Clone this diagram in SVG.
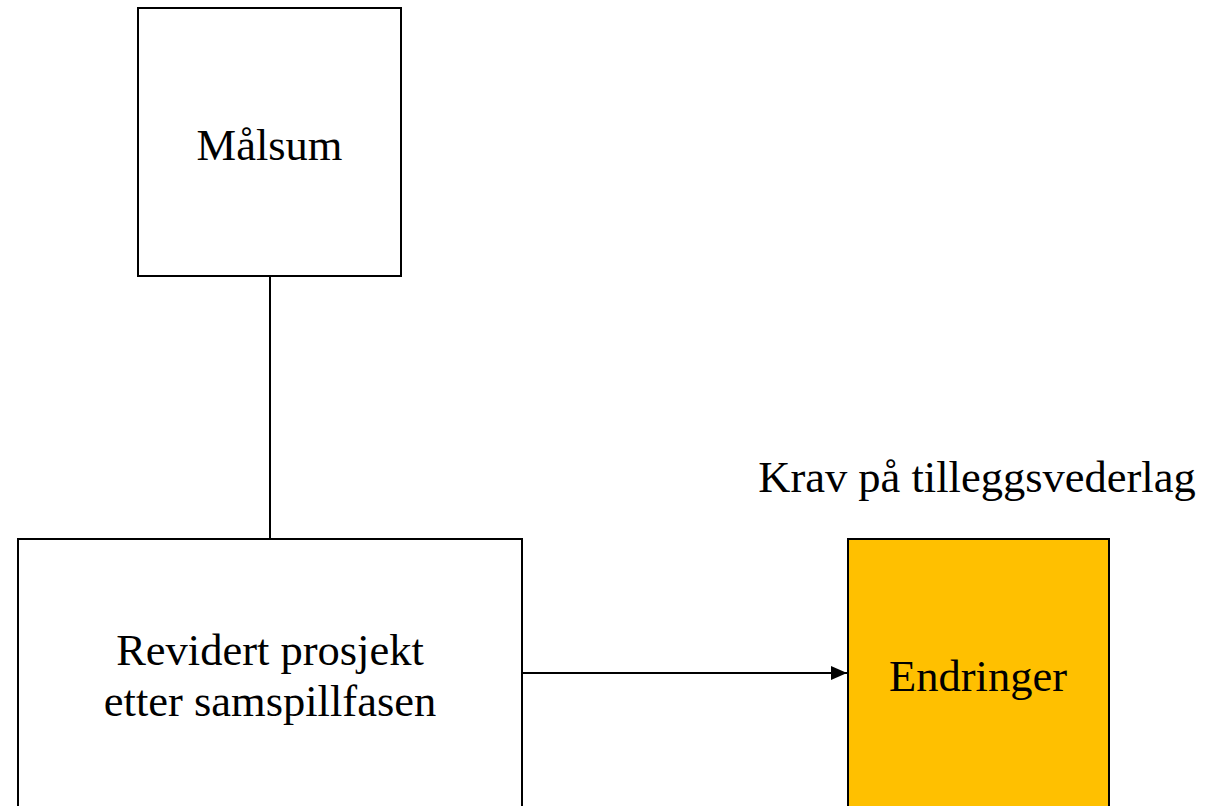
<svg xmlns="http://www.w3.org/2000/svg" width="1205" height="806" viewBox="0 0 1205 806">
<style>
.box{fill:#fff;stroke:#000;stroke-width:2}
.t{font-family:"Liberation Serif","Times New Roman",serif;font-size:44.5px;fill:#000;text-anchor:middle}
.c{stroke:#000;stroke-width:2;fill:none}
</style>
<defs>
<marker id="ah" markerWidth="16" markerHeight="14" refX="16" refY="7" orient="auto" markerUnits="userSpaceOnUse">
<path d="M0,0 L16,7 L0,14 Z" fill="#000"/>
</marker>
</defs>
<rect width="1205" height="806" fill="#fff"/>
<g id="connectors">
<line class="c" x1="270" y1="276" x2="270" y2="539"/>
<line class="c" x1="522" y1="673" x2="847" y2="673" marker-end="url(#ah)"/>
</g>
<g id="malsum">
<rect class="box" x="138" y="8" width="263" height="268"/>
<text class="t" x="269.5" y="160">Målsum</text>
</g>
<g id="revidert">
<rect class="box" x="18" y="539" width="504" height="280"/>
<text class="t" x="270" y="665">Revidert prosjekt</text>
<text class="t" x="270" y="716">etter samspillfasen</text>
</g>
<g id="krav">
<text class="t" x="977" y="492">Krav på tilleggsvederlag</text>
</g>
<g id="endringer">
<rect class="box" x="848" y="539" width="261" height="280" style="fill:#FFC000"/>
<text class="t" x="978" y="691">Endringer</text>
</g>
</svg>
